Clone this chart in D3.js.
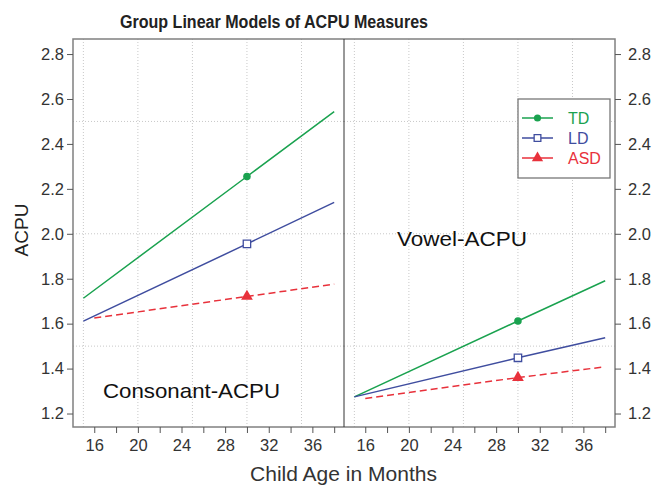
<!DOCTYPE html>
<html lang="en">
<head>
<meta charset="UTF-8">
<title>Group Linear Models of ACPU Measures</title>
<script src="https://cdn.jsdelivr.net/npm/d3@7"></script>
<style>
  body { margin: 0; background: #fff; }
  svg text { font-family: "Liberation Sans", Arial, sans-serif; }
</style>
</head>
<body>
<div id="chart"></div>
<script>
// panels and groups
const panels = ['Consonant-ACPU', 'Vowel-ACPU'];
const groups = ['TD', 'LD', 'ASD'];
const groupColors = ['#1aa24f', '#3f4d9f', '#e8313b'];

// fitted lines: age points and ACPU values (start, 30 months, end)
const ages = { TD: [15, 30, 38], LD: [15, 30, 38], ASD: [16, 30, 38] };
const consonant = { TD: [1.713, 2.255, 2.544], LD: [1.611, 1.955, 2.14], ASD: [1.625, 1.721, 1.776] };
const vowel = { TD: [1.274, 1.612, 1.791], LD: [1.274, 1.448, 1.537], ASD: [1.267, 1.36, 1.408] };
const markerAge = 30;

const yTicks = [1.2, 1.4, 1.6, 1.8, 2.0, 2.2, 2.4, 2.6, 2.8];
const xTicks = [16, 18, 20, 22, 24, 26, 28, 30, 32, 34, 36, 38];
const xLabels = [16, 20, 24, 28, 32, 36];
const xGrid = [15, 20, 25, 30, 35];
const yGrid = [1.5, 2.0, 2.5];

const w = 655, h = 485;
const plotL = 73, plotR = 615, plotT = 39, plotB = 427;
const panelW = (plotR - plotL) / 2;

const svg = d3.select('#chart').append('svg')
    .attr('width', w)
    .attr('height', h);

const y = d3.scaleLinear().domain([1.14, 2.867]).range([plotB, plotT]);
const xScales = panels.map((p, i) => d3.scaleLinear()
    .domain([14.05, 38.9])
    .range([plotL + i * panelW, plotL + (i + 1) * panelW]));

// grid lines
panels.forEach((p, i) => {
    const x = xScales[i];
    const g = svg.append('g').attr('stroke', '#c8c8c8').attr('stroke-dasharray', '1,2').attr('stroke-width', 1);
    xGrid.forEach(v => {
        g.append('line').attr('x1', x(v)).attr('x2', x(v)).attr('y1', plotT).attr('y2', plotB);
    });
    yGrid.forEach(v => {
        g.append('line').attr('x1', x.range()[0]).attr('x2', x.range()[1]).attr('y1', y(v)).attr('y2', y(v));
    });
});

// lines and markers
const symbols = [d3.symbolCircle, d3.symbolSquare, d3.symbolTriangle];
[consonant, vowel].forEach((vals, i) => {
    const x = xScales[i];
    groups.forEach((gname, k) => {
        const pts = ages[gname].map((a, j) => [a, vals[gname][j]]);
        svg.append('path')
            .datum(pts)
            .attr('fill', 'none')
            .attr('stroke', groupColors[k])
            .attr('stroke-width', 1.5)
            .attr('stroke-dasharray', gname === 'ASD' ? '7,4' : null)
            .attr('d', d3.line().x(d => x(d[0])).y(d => y(d[1])));
        const m = pts.find(d => d[0] === markerAge);
        svg.append('path')
            .attr('transform', `translate(${x(m[0])},${y(m[1])})`)
            .attr('d', d3.symbol().type(symbols[k]).size(k === 0 ? 45 : k === 1 ? 55 : 60))
            .attr('fill', k === 1 ? '#fff' : groupColors[k])
            .attr('stroke', groupColors[k])
            .attr('stroke-width', k === 1 ? 1.3 : 0);
    });
});

// panel frame
svg.append('rect')
    .attr('x', plotL).attr('y', plotT)
    .attr('width', plotR - plotL).attr('height', plotB - plotT)
    .attr('fill', 'none').attr('stroke', '#808080').attr('stroke-width', 1.5);
svg.append('line')
    .attr('x1', plotL + panelW).attr('x2', plotL + panelW)
    .attr('y1', plotT).attr('y2', plotB)
    .attr('stroke', '#333').attr('stroke-width', 1);

// axes
const axisStyle = g => {
    g.select('.domain').remove();
    g.selectAll('.tick line').attr('stroke', '#555');
    g.selectAll('.tick text').attr('fill', '#333').style('font-size', '16.5px')
        .style('font-family', '"Liberation Sans", Arial, sans-serif');
};
svg.append('g')
    .attr('transform', `translate(${plotL},0)`)
    .call(d3.axisLeft(y).tickValues(yTicks).tickFormat(d3.format('.1f')).tickSize(6).tickPadding(3))
    .call(axisStyle);
svg.append('g')
    .attr('transform', `translate(${plotR},0)`)
    .call(d3.axisRight(y).tickValues(yTicks).tickFormat(d3.format('.1f')).tickSize(6).tickPadding(7))
    .call(axisStyle);
xScales.forEach(x => {
    svg.append('g')
        .attr('transform', `translate(0,${plotB})`)
        .call(d3.axisBottom(x).tickValues(xTicks)
            .tickFormat(d => xLabels.includes(d) ? d : '').tickSize(6).tickPadding(6))
        .call(axisStyle);
});

// panel labels
svg.append('text').attr('x', 103).attr('y', 398).attr('fill', '#111')
    .style('font-size', '21px').attr('textLength', 177).attr('lengthAdjust', 'spacingAndGlyphs')
    .text(panels[0]);
svg.append('text').attr('x', 397).attr('y', 246).attr('fill', '#111')
    .style('font-size', '21px').attr('textLength', 130).attr('lengthAdjust', 'spacingAndGlyphs')
    .text(panels[1]);

// titles
svg.append('text').attr('x', 120).attr('y', 27.5)
    .attr('fill', '#222').style('font-size', '18px').style('font-weight', 'bold')
    .attr('textLength', 308).attr('lengthAdjust', 'spacingAndGlyphs')
    .text('Group Linear Models of ACPU Measures');
svg.append('text').attr('x', 250).attr('y', 481)
    .attr('fill', '#333').style('font-size', '20.5px')
    .attr('textLength', 187).attr('lengthAdjust', 'spacingAndGlyphs')
    .text('Child Age in Months');
svg.append('text').attr('transform', 'rotate(-90)').attr('x', -230).attr('y', 28)
    .attr('text-anchor', 'middle').attr('fill', '#222').style('font-size', '19px').text('ACPU');

// legend
const legend = svg.append('g').attr('transform', 'translate(518,99)');
legend.append('rect').attr('width', 92).attr('height', 79)
    .attr('fill', '#fff').attr('stroke', '#777').attr('stroke-width', 1.3);
groups.forEach((gname, k) => {
    const ly = 19 + k * 20;
    legend.append('line').attr('x1', 4).attr('x2', 35).attr('y1', ly).attr('y2', ly)
        .attr('stroke', groupColors[k]).attr('stroke-width', 1.5);
    legend.append('path')
        .attr('transform', `translate(19.5,${ly})`)
        .attr('d', d3.symbol().type(symbols[k]).size(k === 0 ? 40 : k === 1 ? 45 : 55))
        .attr('fill', k === 1 ? '#fff' : groupColors[k])
        .attr('stroke', groupColors[k]).attr('stroke-width', k === 1 ? 1.3 : 0);
    legend.append('text').attr('x', 50).attr('y', ly + 6)
        .attr('fill', groupColors[k]).style('font-size', '16px').text(gname);
});
</script>
</body>
</html>
